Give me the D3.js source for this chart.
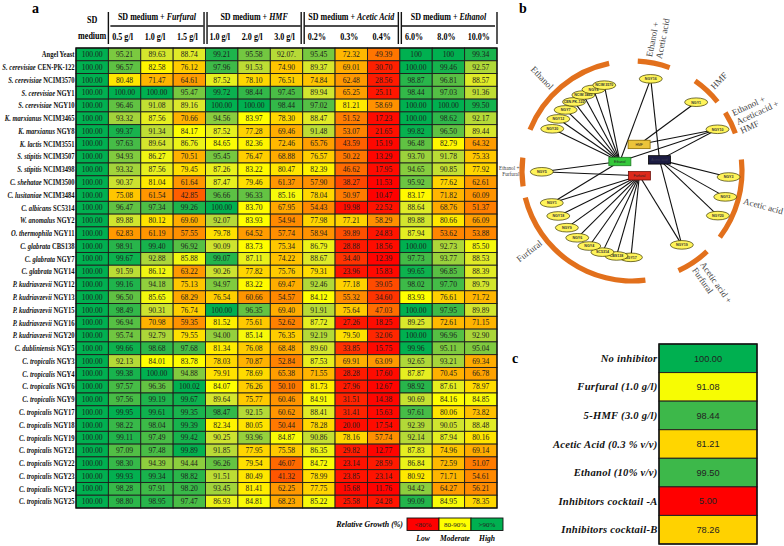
<!DOCTYPE html>
<html><head><meta charset="utf-8">
<script src="https://cdn.jsdelivr.net/npm/d3@7"></script>
<style>body{margin:0;background:#fff} svg{display:block}</style>
</head><body>
<svg id="chart" width="784" height="546"></svg>
<script>
// ---------------- DATA ----------------
const species = ["", "S. cerevisiae", "S. cerevisiae", "S. cerevisiae", "S. cerevisiae", "K. marxianus", "K. marxianus", "K. lactis", "S. stipitis", "S. stipitis", "C. shehatae", "C. lusitaniae", "C. albicans", "W. anomalus", "O. thermophila", "C. glabrata", "C. glabrata", "C. glabrata", "P. kudriavzevii", "P. kudriavzevii", "P. kudriavzevii", "P. kudriavzevii", "P. kudriavzevii", "C. dubliniensis", "C. tropicalis", "C. tropicalis", "C. tropicalis", "C. tropicalis", "C. tropicalis", "C. tropicalis", "C. tropicalis", "C. tropicalis", "C. tropicalis", "C. tropicalis", "C. tropicalis", "C. tropicalis"];
const strainIds = ["Angel Yeast", "CEN-PK-122", "NCIM3570", "NGY1", "NGY10", "NCIM3465", "NGY8", "NCIM3551", "NCIM3507", "NCIM3498", "NCIM3500", "NCIM3484", "SC5314", "NGY2", "NGY11", "CBS138", "NGY7", "NGY14", "NGY12", "NGY13", "NGY15", "NGY16", "NGY20", "NGY5", "NGY3", "NGY4", "NGY6", "NGY9", "NGY17", "NGY18", "NGY19", "NGY21", "NGY22", "NGY23", "NGY24", "NGY25"];

const groupHeaders = ["Furfural", "HMF", "Acetic Acid", "Ethanol"];
const conditionLabels = ["SD medium", "0.5 g/l", "1.0 g/l", "1.5 g/l", "1.0 g/l", "2.0 g/l", "3.0 g/l", "0.2%", "0.3%", "0.4%", "6.0%", "8.0%", "10.0%"];
const conditionGroup = [-1, 0, 0, 0, 1, 1, 1, 2, 2, 2, 3, 3, 3];

const sdMedium = ["100.00","100.00","100.00","100.00","100.00","100.00","100.00","100.00","100.00","100.00","100.00","100.00","100.00","100.00","100.00","100.00","100.00","100.00","100.00","100.00","100.00","100.00","100.00","100.00","100.00","100.00","100.00","100.00","100.00","100.00","100.00","100.00","100.00","100.00","100.00","100.00"];
const furfural05 = ["95.21","96.57","80.48","100.00","96.46","93.32","99.37","97.63","94.93","93.32","90.37","75.08","96.47","89.88","62.83","98.91","99.67","91.59","99.16","96.50","98.49","96.94","95.74","99.66","92.13","99.38","97.57","97.56","99.95","98.22","99.11","97.09","98.30","99.93","98.28","98.80"];
const furfural10 = ["89.63","82.58","71.47","100.00","91.08","87.56","91.34","89.64","86.27","87.56","81.04","61.54","97.34","80.12","61.19","99.40","92.88","86.12","94.18","85.65","90.31","70.98","92.79","98.68","84.01","100.00","96.36","99.19","99.61","98.04","97.49","97.48","94.39","99.34","97.91","98.95"];
const furfural15 = ["88.74","76.12","64.61","95.47","89.16","70.66","84.17","86.76","70.51","79.45","61.64","42.85","99.26","69.60","57.55","96.92","85.88","63.22","75.13","68.29","76.74","59.35","79.55","97.68","83.78","94.88","100.02","99.67","99.35","99.39","99.42","99.89","94.44","98.82","98.20","97.47"];
const hmf10 = ["99.21","97.96","87.52","99.72","100.00","94.56","87.52","84.65","95.45","87.26","87.47","96.66","100.00","92.07","79.78","90.09","99.07","90.26","94.97","76.54","100.00","81.52","94.00","81.34","78.03","79.91","84.07","89.64","98.47","82.34","90.25","91.85","96.26","91.51","93.45","86.93"];
const hmf20 = ["95.58","91.53","78.10","98.44","100.00","83.97","77.28","82.36","76.47","83.22","79.46","96.33","83.70","83.93","64.52","83.73","87.11","77.82","83.22","60.66","96.35","75.61","85.14","76.08","70.87","78.69","76.26","75.77","92.15","80.05","93.96","77.95","79.54","80.49","81.41","84.81"];
const hmf30 = ["92.07.","74.90","76.51","97.45","98.44","78.30","69.46","72.46","68.88","80.47","61.37","85.16","67.95","54.94","57.74","75.34","74.22","75.76","69.47","54.57","69.40","52.62","76.35","68.48","52.84","65.38","50.10","60.46","60.62","50.44","84.87","75.58","46.07","41.32","62.25","68.23"];
const acetic02 = ["95.45","89.37","74.84","89.94","97.02","88.47","91.48","65.76","76.57","82.39","57.90","78.04","54.43","77.98","58.94","86.79","88.67","79.31","92.46","84.12","91.91","87.72","92.19","89.60","87.53","71.55","81.73","84.91","88.41","78.28","90.86","86.35","84.72","78.99","77.75","85.22"];
const acetic03 = ["72.32","69.01","62.48","65.25","81.21","51.52","53.07","43.59","50.22","46.62","38.27","50.97","19.98","77.21","39.89","28.88","34.40","23.96","77.18","55.32","75.64","27.26","79.50","33.85","69.91","28.28","27.96","31.51","31.41","20.00","78.16","29.82","23.14","23.85","15.68","25.58"];
const acetic04 = ["49.39","30.70","28.56","25.11","58.69","17.23","21.65","15.19","13.29","17.95","11.53","10.47","22.52","58.29","24.83","18.56","12.39","15.83","39.05","34.60","47.03","18.25","32.06","15.75","63.09","17.60","12.67","14.38","15.63","17.54","57.74","12.77","28.59","23.14","11.76","24.28"];
const ethanol6 = ["100","100.00","98.87","98.44","100.00","100.00","99.82","96.48","93.70","94.65","95.92","83.17","88.64","89.88","87.94","100.00","97.73","99.65","98.02","83.93","100.00","89.25","100.00","99.96","92.65","87.87","98.92","90.69","97.61","92.39","92.14","87.83","86.84","80.92","94.42","99.09"];
const ethanol8 = ["100","99.46","96.81","97.03","100.00","98.62","96.50","82.79","91.78","90.85","77.62","71.82","68.76","80.66","53.62","92.73","93.77","96.85","97.70","76.61","97.95","72.61","96.96","95.11","93.21","70.45","87.61","84.16","80.06","90.05","87.94","74.96","72.59","71.71","64.27","84.95"];
const ethanol10 = ["99.34","92.57","88.57","91.36","99.50","92.17","89.44","64.32","75.33","77.92","62.61","60.09","51.37","66.09","53.88","85.50","88.53","88.39","89.79","71.72","89.89","71.15","92.90","95.04","69.34","66.78","78.97","84.85","73.82","88.48","80.16","69.14","51.07","54.61","56.21","78.35"];

const legendClasses = ["<80%", "80-90%", ">90%"];
const legendNames = ["Low", "Moderate", "High"];

// panel b network
const hubNames = ["Ethanol", "HMF", "Acetic acid", "Furfural"];
const hubAngle = [-52, 15, 68, 123];
const hubDist = [0.14, 0.25, 0.27, 0.08];
const netGroups = ["Ethanol", "Ethanol +|Acetic acid", "HMF", "Ethanol +|Aceticacid +|HMF", "Acetic acid", "Acetic acid +|Furfural", "Furfural", "Ethanol +|Furfural"];
const groupStart = [-68, 3, 35, 58, 84, 137, 173, 262];
const groupEnd = [-12, 20, 51, 70, 127, 155, 256, 277];
const groupLabelAngle = [-44, 11, 44, 65, 105, 145, 232, 270];
const groupLabelDist = [1.05, 1.05, 1.05, 1.05, 1.05, 1.05, 1.05, 1.024];
const groupLabelSize = [9, 9, 9, 9, 9, 9, 9, 5.2];
const groupLeafDist = [0.82, 0.855, 0.855, 0.865, 0.88, 0.81, 0.785, 0.82];
const groupMembers = [
  ["NGY20", "NGY12", "NGY7", "CEN.PK-122", "NCIM 3465", "NGY8", "NCIM 3570"],
  ["NGY16"], ["NGY1"], ["NGY10"], ["NGY3", "NGY2", "NGY20"], ["NGY19"],
  ["NGY17", "CBS138", "SC5314", "NGY4", "NGY6", "NGY9", "NGY18", "NGY1"],
  ["NGY5"]];
const groupHubs = [["Ethanol"], ["Ethanol", "Acetic acid"], ["HMF"], ["Ethanol", "Acetic acid", "HMF"], ["Acetic acid"], ["Acetic acid", "Furfural"], ["Furfural"], ["Ethanol", "Furfural"]];
const extraEdges = [{group: 6, member: "NGY1", hub: "Ethanol"}];

// panel c
const inhibitors = ["No inhibitor", "Furfural (1.0 g/l)", "5-HMF (3.0 g/l)", "Acetic Acid (0.3 % v/v)", "Ethanol (10% v/v)", "Inhibitors cocktail -A", "Inhibitors cocktail-B"];
const inhibitorGrowth = ["100.00", "91.08", "98.44", "81.21", "99.50", "5.00", "78.26"];

// ---------------- DRAW ----------------
const svg = d3.select("#chart");
const serif = "'Liberation Serif','Times New Roman',serif";
const sans = "'Liberation Sans',Arial,sans-serif";
function txt(parent, x, y, k) {
  return parent.append("text").attr("transform", `translate(${x},${y}) scale(${k},1)`).attr("font-family", serif);
}

const x = d3.scaleBand().domain(d3.range(13)).range([76, 497]);
const y = d3.scaleBand().domain(d3.range(strainIds.length)).range([48, 508]);

// ===== Panel b =====
const gb = svg.append("g");
const netCx = 632, netCy = 171;
const rScale = d3.scaleLinear().domain([0, 1]).range([0, 110]);
const toRad = d3.scaleLinear().domain([0, 180]).range([0, Math.PI]);
function polar(deg, r) { const a = toRad(deg); return [netCx + r * Math.sin(a), netCy - r * Math.cos(a)]; }

const hubPos = {};
hubNames.forEach((h, i) => hubPos[h] = polar(hubAngle[i], rScale(hubDist[i])));

const leaves = [];
netGroups.forEach((g, gi) => {
  const sp = d3.scalePoint().domain(d3.range(groupMembers[gi].length)).range([groupStart[gi], groupEnd[gi]]).padding(0.8);
  groupMembers[gi].forEach((m, k) => {
    leaves.push({name: m, group: gi, pos: polar(sp(k), rScale(groupLeafDist[gi]))});
  });
});
const edges = [];
leaves.forEach(l => groupHubs[l.group].forEach(h => edges.push({a: hubPos[h], b: l.pos})));
extraEdges.forEach(e => {
  const l = leaves.find(d => d.group === e.group && d.name === e.member);
  edges.push({a: hubPos[e.hub], b: l.pos});
});

// arcs
const arcGen = d3.arc().innerRadius(rScale(1) - 2.6).outerRadius(rScale(1) + 2.6);
gb.append("g").attr("transform", `translate(${netCx},${netCy})`)
  .selectAll("path").data(netGroups).join("path")
  .attr("d", (d, i) => arcGen({startAngle: toRad(groupStart[i]), endAngle: toRad(groupEnd[i])}))
  .attr("fill", "#e2701c");

// group labels
netGroups.forEach((g, i) => {
  const ang = groupLabelAngle[i];
  const norm = ((ang % 360) + 360) % 360;
  const left = norm > 180;
  const [px, py] = polar(ang, rScale(groupLabelDist[i]));
  let rot = ang - 90;
  if (left) rot += 180;
  const fs = groupLabelSize[i];
  const lines = g.split("|");
  const t = gb.append("text").attr("transform", `translate(${px},${py}) rotate(${rot})`)
    .attr("font-family", serif).attr("font-size", fs).attr("fill", "#444")
    .attr("text-anchor", left ? "end" : "start");
  lines.forEach((ln, k) => t.append("tspan").attr("x", 0)
    .attr("y", (k - (lines.length - 1) / 2) * fs * 1.1 + fs * 0.33).text(ln));
});

// edges
gb.append("g").selectAll("line").data(edges).join("line")
  .attr("x1", d => d.a[0]).attr("y1", d => d.a[1]).attr("x2", d => d.b[0]).attr("y2", d => d.b[1])
  .attr("stroke", "#111").attr("stroke-width", 1.1);

// leaves
const lg = gb.append("g").selectAll("g").data(leaves).join("g")
  .attr("transform", d => `translate(${d.pos[0]},${d.pos[1]})`);
lg.append("ellipse").attr("rx", 11.5).attr("ry", 4.3).attr("fill", "#fff45a").attr("stroke", "#3b3600").attr("stroke-width", 0.7);
lg.append("text").attr("text-anchor", "middle").attr("y", 1.3).attr("font-family", sans).attr("font-weight", "bold")
  .attr("font-size", 3.6).attr("fill", "#333").text(d => d.name);

// hubs
const hubFill = {"Ethanol": "#35c93b", "HMF": "#ebc43a", "Acetic acid": "#1c1c42", "Furfural": "#dd2a1c"};
const hubStroke = {"Ethanol": "#1d7a22", "HMF": "#8a6a00", "Acetic acid": "#000", "Furfural": "#6e0e08"};
const hg = gb.append("g").selectAll("g").data(hubNames).join("g")
  .attr("transform", d => `translate(${hubPos[d][0]},${hubPos[d][1]})`);
hg.append("rect").attr("x", -11).attr("y", -4.2).attr("width", 22).attr("height", 8.4)
  .attr("fill", d => hubFill[d]).attr("stroke", d => hubStroke[d]).attr("stroke-width", 0.8);
hg.append("text").attr("text-anchor", "middle").attr("y", 1.3).attr("font-family", sans)
  .attr("font-size", 3.4).attr("fill", d => d === "Acetic acid" ? "#3a3a55" : "#222").text(d => d);

// ===== Panel a heatmap =====
const ga = svg.append("g");
const columns = [sdMedium, furfural05, furfural10, furfural15, hmf10, hmf20, hmf30, acetic02, acetic03, acetic04, ethanol6, ethanol8, ethanol10];
const color = d3.scaleLinear()
  .domain([10, 30, 42, 55, 66, 73, 79, 84, 89, 93, 96.5, 99, 100])
  .range(["#ff0000", "#ff1c00", "#ff5a00", "#ff8a00", "#ff9f00", "#ffbb00", "#ffdc00", "#ffff00", "#dde92b", "#aad63a", "#60c243", "#26b54b", "#00b050"])
  .clamp(true);

const cells = [];
columns.forEach((col, j) => col.forEach((v, i) => cells.push({i, j, label: v, value: parseFloat(v)})));

ga.append("g").selectAll("rect").data(cells).join("rect")
  .attr("x", d => x(d.j)).attr("y", d => y(d.i)).attr("width", x.bandwidth()).attr("height", y.bandwidth())
  .attr("fill", d => color(d.value)).attr("stroke", "#1e1e1e").attr("stroke-width", 0.9);
ga.append("g").selectAll("text").data(cells).join("text")
  .attr("x", d => x(d.j) + x.bandwidth() / 2).attr("y", d => y(d.i) + y.bandwidth() / 2 + 2.6)
  .attr("text-anchor", "middle").attr("font-family", serif).attr("font-size", 7.6).attr("fill", "#1c1c1c")
  .text(d => d.label);
ga.append("rect").attr("x", x.range()[0]).attr("y", y.range()[0])
  .attr("width", x.range()[1] - x.range()[0]).attr("height", y.range()[1] - y.range()[0])
  .attr("fill", "none").attr("stroke", "#111").attr("stroke-width", 1.3);

// row labels
strainIds.forEach((s, i) => {
  const t = txt(ga, x.range()[0] - 1.5, y(i) + y.bandwidth() / 2 + 2.8, 0.8)
    .attr("text-anchor", "end").attr("font-size", 8.2).attr("font-weight", "bold").attr("fill", "#111");
  if (species[i]) t.append("tspan").attr("font-style", "italic").text(species[i] + " ");
  t.append("tspan").text(s);
});

// header
const hdr = ga.append("g");
txt(hdr, x(0) + x.bandwidth() / 2, 22.5, 0.85).attr("text-anchor", "middle").attr("font-size", 9.5).attr("font-weight", "bold").text("SD");
txt(hdr, x(0) + x.bandwidth() / 2, 39, 0.85).attr("text-anchor", "middle").attr("font-size", 9.5).attr("font-weight", "bold").text("medium");
conditionLabels.forEach((c, j) => {
  if (j === 0) return;
  txt(hdr, x(j) + x.bandwidth() / 2 - 2, 39.5, 0.85).attr("text-anchor", "middle").attr("font-size", 9.5).attr("font-weight", "bold").text(c);
});
groupHeaders.forEach((g, gi) => {
  const js = d3.range(columns.length).filter(j => conditionGroup[j] === gi);
  const x0 = x(js[0]), x1 = x(js[js.length - 1]) + x.bandwidth();
  const t = txt(hdr, (x0 + x1) / 2, 19.5, 0.8).attr("text-anchor", "middle").attr("font-size", 10).attr("font-weight", "bold");
  t.append("tspan").text("SD medium + ");
  t.append("tspan").attr("font-style", "italic").text(g);
  hdr.append("line").attr("x1", x0 + 2).attr("x2", x1 - 2).attr("y1", 26).attr("y2", 26).attr("stroke", "#111").attr("stroke-width", 1.4);
  const bars = gi === 0 ? [x0] : [x0 + 1.5];
  bars.forEach(bx => hdr.append("line").attr("x1", bx).attr("x2", bx).attr("y1", 12).attr("y2", 44).attr("stroke", "#111").attr("stroke-width", 1.4));
  const endBars = gi === groupHeaders.length - 1 ? [x1] : [x1 - 1.5];
  endBars.forEach(bx => hdr.append("line").attr("x1", bx).attr("x2", bx).attr("y1", 12).attr("y2", 44).attr("stroke", "#111").attr("stroke-width", 1.4));
});

// legend
const lgx = d3.scaleBand().domain(legendClasses).range([407, 503]);
const legendColor = d3.scaleOrdinal().domain(legendClasses).range([color(10), color(84), color(100)]);
txt(ga, 403, 527, 0.88).attr("text-anchor", "end").attr("font-size", 9).attr("font-weight", "bold").attr("font-style", "italic").text("Relative Growth (%)");
ga.append("g").selectAll("rect").data(legendClasses).join("rect")
  .attr("x", d => lgx(d)).attr("y", 518).attr("width", lgx.bandwidth()).attr("height", 12.5)
  .attr("fill", d => legendColor(d)).attr("stroke", "#111").attr("stroke-width", 0.9);
ga.append("g").selectAll("text").data(legendClasses).join("text")
  .attr("x", d => lgx(d) + lgx.bandwidth() / 2).attr("y", 526.6).attr("text-anchor", "middle")
  .attr("font-family", serif).attr("font-size", 7).attr("fill", "#222").text(d => d);
legendNames.forEach((n, k) => {
  txt(ga, lgx(legendClasses[k]) + lgx.bandwidth() / 2, 541, 0.88).attr("text-anchor", "middle")
    .attr("font-size", 8.6).attr("font-weight", "bold").attr("font-style", "italic").text(n);
});

// panel letters
svg.append("text").attr("x", 32).attr("y", 13).attr("font-family", serif).attr("font-weight", "bold").attr("font-size", 14).text("a");
svg.append("text").attr("x", 519).attr("y", 13).attr("font-family", serif).attr("font-weight", "bold").attr("font-size", 14).text("b");
svg.append("text").attr("x", 512).attr("y", 363).attr("font-family", serif).attr("font-weight", "bold").attr("font-size", 14).text("c");

// ===== Panel c table =====
const gc = svg.append("g");
const ty = d3.scaleBand().domain(d3.range(inhibitors.length)).range([344, 544]);
const tx0 = 659, tx1 = 757;
const tColor = d3.scaleLinear()
  .domain([5, 40, 70, 82, 91, 93, 99.6, 100])
  .range(["#ff0000", "#ff4800", "#ffc800", "#ffd700", "#ffff00", "#3db84a", "#3db84a", "#00b050"])
  .clamp(true);
gc.selectAll("rect").data(inhibitorGrowth).join("rect")
  .attr("x", tx0).attr("y", (d, i) => ty(i)).attr("width", tx1 - tx0).attr("height", ty.bandwidth())
  .attr("fill", d => tColor(parseFloat(d))).attr("stroke", "#222").attr("stroke-width", 1);
gc.append("rect").attr("x", tx0).attr("y", 344).attr("width", tx1 - tx0).attr("height", 200)
  .attr("fill", "none").attr("stroke", "#111").attr("stroke-width", 1.4);
gc.selectAll("text.v").data(inhibitorGrowth).join("text").attr("class", "v")
  .attr("x", (tx0 + tx1) / 2).attr("y", (d, i) => ty(i) + ty.bandwidth() / 2 + 3.3)
  .attr("text-anchor", "middle").attr("font-family", sans).attr("font-size", 9.2).attr("fill", "#222").text(d => d);
gc.selectAll("text.l").data(inhibitors).join("text").attr("class", "l")
  .attr("x", tx0 - 1.5).attr("y", (d, i) => ty(i) + ty.bandwidth() / 2 + 3.5)
  .attr("text-anchor", "end").attr("font-family", serif).attr("font-size", 10.6).attr("font-weight", "bold")
  .attr("font-style", "italic").attr("letter-spacing", 0.25).attr("fill", "#111").text(d => d);
</script>
</body></html>
